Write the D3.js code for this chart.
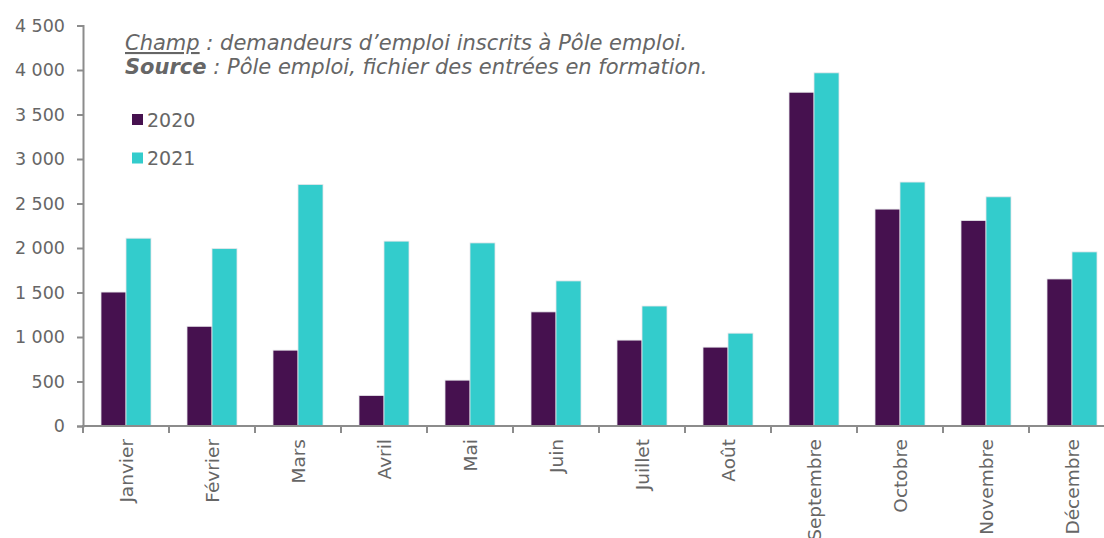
<!DOCTYPE html>
<html>
<head>
<meta charset="utf-8">
<script src="https://cdn.jsdelivr.net/npm/d3@7"></script>
<style>
  body { margin: 0; background: #fff; }
  svg { display: block; font-family: "DejaVu Sans", Verdana, sans-serif; }
</style>
</head>
<body>
<script>
const months = ['Janvier', 'Février', 'Mars', 'Avril', 'Mai', 'Juin', 'Juillet', 'Août', 'Septembre', 'Octobre', 'Novembre', 'Décembre']
const series = ['2020', '2021']
const values2020 = [1505, 1120, 852, 342, 515, 1282, 965, 886, 3750, 2437, 2308, 1652]
const values2021 = [2110, 1993, 2714, 2077, 2057, 1630, 1348, 1043, 3968, 2741, 2575, 1956]
const yTicks = [0, 500, 1000, 1500, 2000, 2500, 3000, 3500, 4000, 4500]
const colors = ['#46114f', '#33cccc']

const width = 1104
const height = 538
const textColor = '#666666'
const axisColor = '#8c8c8c'

const svg = d3.select('body').append('svg')
    .attr('width', width)
    .attr('height', height)

const x0 = d3.scaleBand().domain(months).range([83, 1115]).padding(0)
const x1 = d3.scaleBand().domain(series).range([18, 68]).padding(0)
const y = d3.scaleLinear().domain([0, 4500]).range([426, 25.5])

const fr = d3.formatLocale({ decimal: ',', thousands: ' ', grouping: [3], currency: ['', ' €'] })

// y axis
const yAxis = svg.append('g')
    .attr('transform', 'translate(83,0)')
    .call(d3.axisLeft(y).tickValues(yTicks).tickFormat(fr.format(',')).tickSize(6).tickPadding(12))
yAxis.select('.domain').attr('stroke', axisColor).attr('stroke-width', 2)
yAxis.selectAll('.tick line').attr('stroke', axisColor).attr('stroke-width', 2)
yAxis.selectAll('.tick text')
    .attr('fill', textColor)
    .style('font-size', '17.5px')
    .style('font-family', '"DejaVu Sans", Verdana, sans-serif')

// bars
const data = months.map((m, i) => ({ month: m, vals: [values2020[i], values2021[i]] }))
const groups = svg.append('g').selectAll('g')
    .data(data)
    .join('g')
    .attr('transform', d => `translate(${x0(d.month)},0)`)

groups.selectAll('rect')
    .data(d => d.vals.map((v, j) => ({ key: series[j], value: v, color: colors[j] })))
    .join('rect')
    .attr('x', d => x1(d.key))
    .attr('width', x1.bandwidth())
    .attr('y', d => y(d.value))
    .attr('height', d => y(0) - y(d.value))
    .attr('fill', d => d.color)
    .attr('stroke', '#e6e6ea')
    .attr('stroke-width', 0.8)

// x axis
const xg = svg.append('g')
xg.append('line')
    .attr('x1', 82).attr('x2', width)
    .attr('y1', y(0)).attr('y2', y(0))
    .attr('stroke', axisColor).attr('stroke-width', 2)
xg.selectAll('line.tick')
    .data(months)
    .join('line')
    .attr('class', 'tick')
    .attr('x1', d => x0(d)).attr('x2', d => x0(d))
    .attr('y1', y(0)).attr('y2', y(0) + 7)
    .attr('stroke', axisColor).attr('stroke-width', 2)
xg.selectAll('text')
    .data(months)
    .join('text')
    .attr('transform', d => `translate(${x0(d) + x0.bandwidth() / 2 + 7},439) rotate(-90)`)
    .attr('text-anchor', 'end')
    .attr('fill', textColor)
    .style('font-size', '18.5px')
    .text(d => d)

// annotation
const note = svg.append('text')
    .attr('x', 125)
    .attr('fill', textColor)
    .style('font-size', '21px')
    .style('font-style', 'italic')
const l1 = note.append('tspan').attr('x', 125).attr('y', 50)
l1.append('tspan').attr('text-decoration', 'underline').text('Champ')
l1.append('tspan').text(' : demandeurs d’emploi inscrits à Pôle emploi.')
const l2 = note.append('tspan').attr('x', 125).attr('y', 74)
l2.append('tspan').style('font-weight', 'bold').text('Source')
l2.append('tspan').text(' : Pôle emploi, fichier des entrées en formation.')

// legend
const legendY = d3.scalePoint().domain(series).range([119.5, 158])
const legend = svg.append('g').selectAll('g')
    .data(series)
    .join('g')
    .attr('transform', d => `translate(132,${legendY(d)})`)
legend.append('rect')
    .attr('x', 0).attr('y', -5.5)
    .attr('width', 11).attr('height', 11)
    .attr('fill', (d, i) => colors[i])
legend.append('text')
    .attr('x', 15).attr('y', 7)
    .attr('fill', textColor)
    .style('font-size', '19px')
    .text(d => d)
</script>
</body>
</html>
